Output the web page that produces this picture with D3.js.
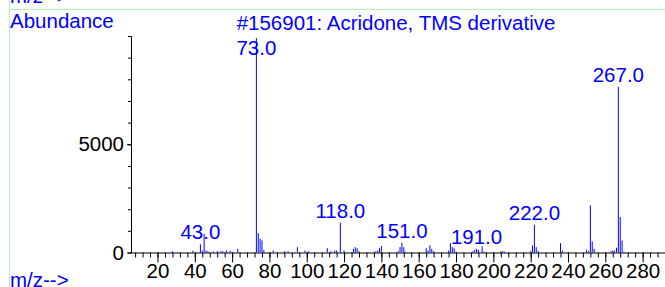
<!DOCTYPE html>
<html>
<head>
<meta charset="utf-8">
<script src="https://cdnjs.cloudflare.com/ajax/libs/d3/7.8.5/d3.min.js"></script>
<style>
  html, body { margin: 0; padding: 0; background: #fff; }
  svg { display: block; font-family: "Liberation Sans", Arial, sans-serif; }
</style>
</head>
<body>
<div class="chart"></div>
<script>
// mass spectrum: m/z and abundance
var mz = [28, 39, 43, 44, 45, 46, 47, 50, 52, 54, 55, 57, 59, 63,
  73, 74, 75, 76, 77, 82, 88, 90, 95, 99, 101, 111, 113, 115, 116, 118, 120,
  125, 126, 127, 128, 137, 138, 139, 140, 149, 150, 151, 152, 153,
  164, 165, 166, 167, 168, 176, 177, 178, 179, 180, 189, 190, 191, 192, 194, 195,
  204, 205, 206, 220, 221, 222, 223, 224, 236, 237,
  250, 251, 252, 253, 254, 263, 264, 265, 266, 267, 268, 269, 270];
var abundance = [60, 90, 380, 90, 860, 90, 60, 50, 60, 60, 60, 90, 90, 170,
  9900, 900, 640, 560, 120, 90, 60, 60, 245, 90, 60, 200, 60, 90, 90, 1375, 90,
  170, 245, 200, 60, 60, 90, 200, 300, 60, 245, 450, 245, 40,
  200, 90, 325, 170, 60, 90, 430, 245, 185, 40, 60, 120, 170, 120, 290, 40,
  60, 60, 40, 60, 325, 1280, 245, 60, 430, 90,
  125, 60, 2175, 510, 170, 60, 90, 90, 220, 7650, 1635, 555, 40];
var labelMz = [43, 73, 118, 151, 191, 222, 267];
var xTickLabels = [20, 40, 60, 80, 100, 120, 140, 160, 180, 200, 220, 240, 260, 280];
var yTickLabels = [0, 5000];
var title = "#156901: Acridone, TMS derivative";

var svgWidth = 665, svgHeight = 287;
var blue = "#0000ff";

var svg = d3.select(".chart")
  .append("svg")
    .attr("width", svgWidth)
    .attr("height", svgHeight);

var x = d3.scaleLinear().domain([5.8, 292]).range([131, 665]);
var y = d3.scaleLinear().domain([0, 10000]).range([252.5, 36]);

// frame lines of the report page
svg.append("line")
  .attr("x1", 9.5).attr("x2", 9.5).attr("y1", 0).attr("y2", svgHeight)
  .attr("stroke", "#b4f0b4");
svg.append("line")
  .attr("x1", 9.5).attr("x2", svgWidth).attr("y1", 9.5).attr("y2", 9.5)
  .attr("stroke", "#b4f0b4");

// leftover of the panel above
svg.append("text")
  .attr("x", 10).attr("y", 3)
  .attr("fill", blue).attr("font-size", "20.5px")
  .text("m/z-->");

svg.append("text")
  .attr("x", 10).attr("y", 28)
  .attr("fill", blue).attr("font-size", "20.5px")
  .text("Abundance");

svg.append("text")
  .attr("x", 396).attr("y", 30)
  .attr("text-anchor", "middle")
  .attr("fill", blue).attr("font-size", "20.5px")
  .text(title);

svg.append("text")
  .attr("x", 10).attr("y", 287)
  .attr("fill", blue).attr("font-size", "20.5px")
  .text("m/z-->");

// axes
var xMinor = d3.axisBottom(x)
  .tickValues(d3.range(8, 292, 4))
  .tickSize(5).tickFormat("");
var xMajor = d3.axisBottom(x)
  .tickValues(xTickLabels)
  .tickSize(10).tickPadding(1).tickFormat(d3.format("d"));

svg.append("g")
  .attr("transform", "translate(0," + y(0) + ")")
  .call(xMinor)
  .call(function(g){ g.select(".domain").remove(); });

var gx = svg.append("g")
  .attr("transform", "translate(0," + y(0) + ")")
  .call(xMajor);
gx.select(".domain").attr("d", "M" + x(5.8) + ",0.5H" + svgWidth);
gx.selectAll("text")
  .attr("font-size", "20.5px")
  .attr("font-family", "Liberation Sans, Arial, sans-serif")
  .attr("fill", "#000")
  .attr("dy", "0.72em");

var yMinor = d3.axisLeft(y)
  .tickValues(d3.range(1000, 10000, 1000))
  .tickSize(3).tickFormat("");
svg.append("g")
  .attr("transform", "translate(" + x(5.8) + ",0)")
  .call(yMinor);

var gy = svg.append("g")
  .attr("transform", "translate(" + x(5.8) + ",0)")
  .call(d3.axisLeft(y).tickValues(yTickLabels).tickSize(4).tickPadding(3).tickFormat(d3.format("d")));
gy.select(".domain").remove();
gy.selectAll("text")
  .attr("font-size", "20.5px")
  .attr("font-family", "Liberation Sans, Arial, sans-serif")
  .attr("fill", "#000");

// peaks
var peaks = mz.map(function(m, i){ return {mz: m, ab: abundance[i]}; });

svg.selectAll(".peak")
  .data(peaks)
  .enter()
  .append("line")
    .classed("peak", true)
    .attr("x1", function(d){ return x(d.mz); })
    .attr("x2", function(d){ return x(d.mz); })
    .attr("y1", y(0))
    .attr("y2", function(d){ return y(d.ab); })
    .attr("stroke", blue)
    .attr("stroke-width", 1);

// peak labels
svg.selectAll(".plabel")
  .data(peaks.filter(function(d){ return labelMz.indexOf(d.mz) >= 0; }))
  .enter()
  .append("text")
    .classed("plabel", true)
    .attr("x", function(d){ return x(d.mz); })
    .attr("y", function(d){ return Math.max(y(d.ab) - 5, 55); })
    .attr("text-anchor", "middle")
    .attr("fill", blue)
    .attr("font-size", "20.5px")
    .text(function(d){ return d.mz.toFixed(1); });
</script>
</body>
</html>
